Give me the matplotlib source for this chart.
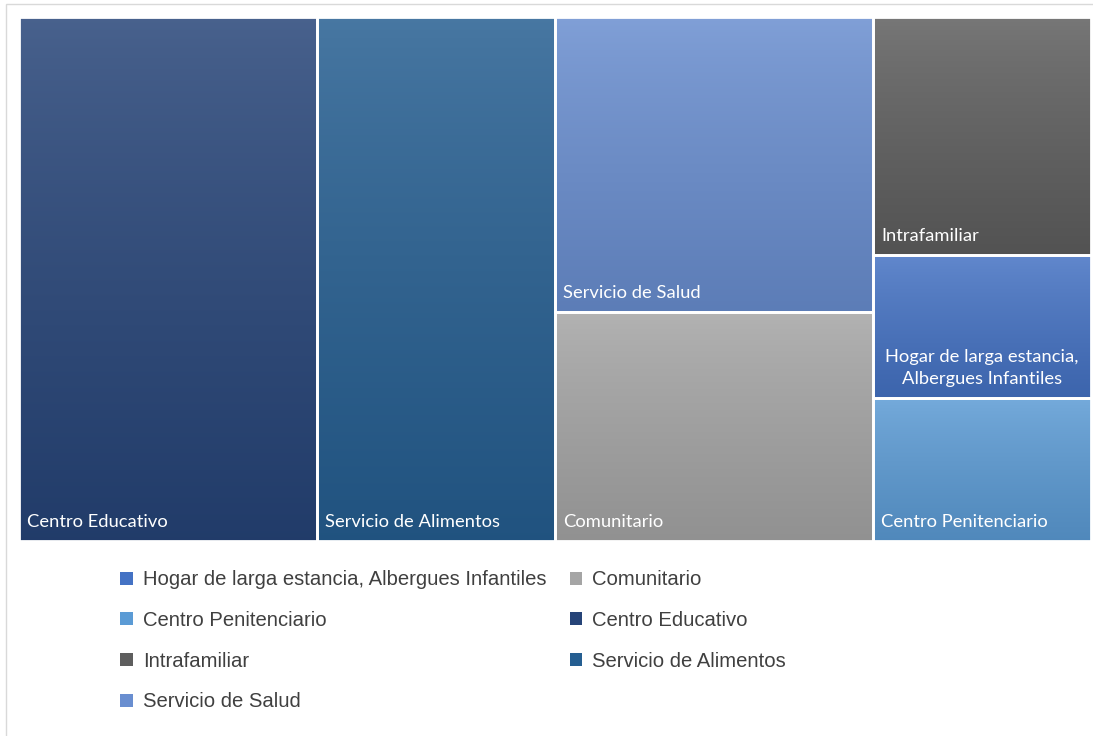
import matplotlib
matplotlib.use("Agg")
import matplotlib.pyplot as plt
import numpy as np
from matplotlib.patches import Rectangle, Patch
from matplotlib.colors import to_rgb

# ---- data ----
categories = ["Centro Educativo", "Servicio de Alimentos", "Servicio de Salud", "Comunitario",
              "Intrafamiliar", "Hogar de larga estancia, Albergues Infantiles", "Centro Penitenciario"]
values = [30, 24, 18, 14, 10, 6, 6]
colors = ["#264478", "#255E91", "#698ED0", "#A5A5A5", "#5E5E5E", "#4472C4", "#5B9BD5"]
legend_order = ["Hogar de larga estancia, Albergues Infantiles", "Centro Penitenciario",
                "Intrafamiliar", "Servicio de Salud", "Comunitario", "Centro Educativo",
                "Servicio de Alimentos"]
# column grouping of the treemap layout (indices into categories)
columns = [[0], [1], [2, 3], [4, 5, 6]]

W, H = 1093, 736
fig = plt.figure(figsize=(W / 100, H / 100), dpi=100)
fig.patch.set_facecolor("white")
fig.add_artist(Rectangle((6 / W, -0.01), 1.01, 1.01 - 4 / H, transform=fig.transFigure,
                         fill=False, edgecolor="#d9d9d9", linewidth=1))

ax = fig.add_axes([19 / W, (H - 541) / H, 1072 / W, 524 / H])
total = sum(values)
ax.set_xlim(0, total)
ax.set_ylim(0, 1)
ax.axis("off")


def mix(c, t, f):
    c = np.array(to_rgb(c)); t = np.array(to_rgb(t))
    return c * (1 - f) + t * f


x0 = 0
for col in columns:
    csum = sum(values[i] for i in col)
    ytop = 1.0
    for i in col:
        h = values[i] / csum
        base = colors[i]
        top = mix(base, "white", 0.16)
        bot = mix(base, "black", 0.12)
        grad = np.linspace(0, 1, 256) ** 0.8
        grad = grad[:, None, None]
        img = top[None, None, :] * (1 - grad) + bot[None, None, :] * grad
        ax.imshow(img, extent=(x0, x0 + csum, ytop - h, ytop), aspect="auto",
                  interpolation="bilinear", zorder=1)
        ax.add_patch(Rectangle((x0, ytop - h), csum, h, fill=False, clip_on=False,
                               edgecolor="white", linewidth=2.0, zorder=2))
        name = categories[i]
        if "," in name:
            ax.text(x0 + csum / 2, ytop - h + 0.021, name.replace(", ", ",\n"),
                    ha="center", va="bottom", color="white", fontsize=13.2,
                    family="Lato", linespacing=1.45, zorder=3)
        else:
            ax.text(x0 + 0.0078 * total, ytop - h + 0.021, name, ha="left", va="bottom",
                    color="white", fontsize=13.2, family="Lato", zorder=3)
        ytop -= h
    x0 += csum

ax.set_xlim(0, total)
ax.set_ylim(0, 1)

cmap = dict(zip(categories, colors))
handles = [Patch(facecolor=cmap[n], edgecolor="none", label=n) for n in legend_order]
leg = fig.legend(handles=handles, ncol=2, loc="upper left",
                 bbox_to_anchor=(102 / W, 1 - 552 / H), frameon=False,
                 prop={"family": "Liberation Sans", "size": 14.6},
                 handlelength=0.62, handleheight=0.62, handletextpad=0.5,
                 labelspacing=1.07, columnspacing=1.15)
for t in leg.get_texts():
    t.set_color("#404040")

fig.savefig("out.png", dpi=100, facecolor="white")
